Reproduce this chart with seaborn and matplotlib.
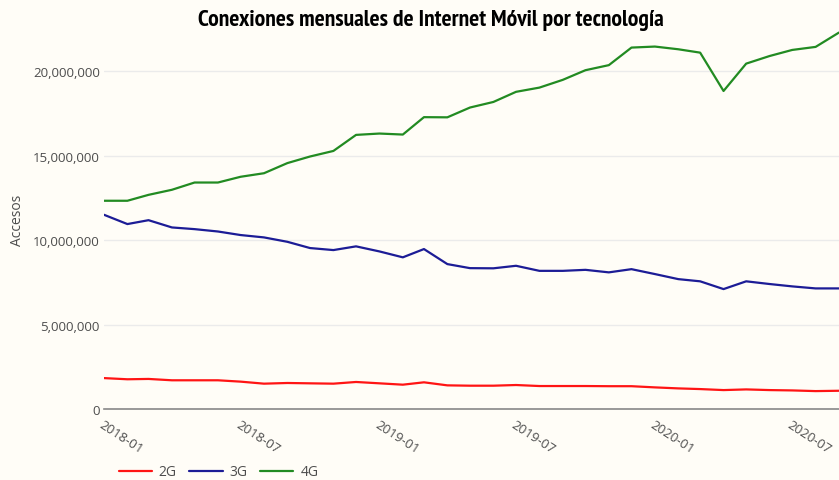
import matplotlib.pyplot as plt
import matplotlib.dates as mdates
import matplotlib.ticker as mticker
from matplotlib import font_manager
import pandas as pd
import seaborn as sns

# Monthly mobile internet connections by technology (millions)
meses = pd.date_range('2018-01-01', '2020-09-01', freq='MS')

accesos_2g = [1.83, 1.76, 1.78, 1.70, 1.70, 1.70, 1.62, 1.50, 1.54, 1.52, 1.50, 1.60,
              1.52, 1.44, 1.58, 1.40, 1.38, 1.38, 1.42, 1.36, 1.36, 1.36, 1.35, 1.35,
              1.28, 1.22, 1.18, 1.12, 1.16, 1.12, 1.10, 1.06, 1.08]
accesos_3g = [11.50, 10.95, 11.18, 10.75, 10.65, 10.51, 10.30, 10.16, 9.90, 9.53, 9.41, 9.63,
              9.33, 8.98, 9.47, 8.58, 8.34, 8.33, 8.48, 8.18, 8.18, 8.24, 8.09, 8.28,
              7.99, 7.69, 7.56, 7.10, 7.56, 7.40, 7.26, 7.14, 7.14]
accesos_4g = [12.33, 12.33, 12.68, 12.98, 13.41, 13.41, 13.75, 13.96, 14.56, 14.95, 15.28, 16.23,
              16.31, 16.25, 17.28, 17.27, 17.85, 18.18, 18.78, 19.03, 19.49, 20.06, 20.36, 21.40,
              21.46, 21.30, 21.10, 18.83, 20.45, 20.90, 21.26, 21.44, 22.29]

tecnologias = ['2G', '3G', '4G']
colores = ['#ff1414', '#1c1c96', '#228b22']

# Long format for seaborn
df = pd.concat([
    pd.DataFrame({'mes': meses, 'accesos': [v * 1e6 for v in vals], 'tecnologia': t})
    for t, vals in zip(tecnologias, [accesos_2g, accesos_3g, accesos_4g])
])

sns.set_style('white')
plt.rcParams['font.family'] = ['Open Sans', 'DejaVu Sans']

# title: a narrow bold face if one is installed, else plain bold sans
def _w(f):
    return f.weight if isinstance(f.weight, int) else (700 if 'bold' in str(f.weight).lower() else 400)

cands = [f for f in font_manager.fontManager.ttflist
         if ('Narrow' in f.name or 'Condensed' in f.name) and _w(f) >= 600 and f.style == 'normal']
cands.sort(key=lambda f: (0 if 'Narrow' in f.name else 1, abs(_w(f) - 700)))
if cands:
    title_font = font_manager.FontProperties(fname=cands[0].fname, size=17)
else:
    title_font = font_manager.FontProperties(family='Liberation Sans', weight='bold', size=13.5)

bg = '#fffdf7'
fig = plt.figure(figsize=(8.39, 4.81), dpi=100, facecolor=bg)
ax = fig.add_axes([104 / 839, 71 / 481, 1 - 104 / 839, 380 / 481])
ax.set_facecolor(bg)

sns.lineplot(data=df, x='mes', y='accesos', hue='tecnologia',
             palette=dict(zip(tecnologias, colores)), linewidth=1.6, ax=ax, legend=False)

ax.set_xlim(meses[0], meses[-1])
ax.set_ylim(0, 22.5e6)

ax.yaxis.set_major_locator(mticker.MultipleLocator(5e6))
ax.yaxis.set_major_formatter(mticker.FuncFormatter(lambda v, p: f'{v:,.0f}'))
ax.xaxis.set_major_locator(mdates.MonthLocator(bymonth=[1, 7]))
ax.xaxis.set_major_formatter(mdates.DateFormatter('%Y-%m'))

ax.grid(axis='y', color='#ebebeb', linewidth=1)
ax.set_axisbelow(True)
for s in ['top', 'right', 'left']:
    ax.spines[s].set_visible(False)
ax.spines['bottom'].set_color('#888888')
ax.spines['bottom'].set_linewidth(1.2)

ax.tick_params(axis='both', length=0, labelsize=9.5, labelcolor='#4d4d4d')
ax.tick_params(axis='y', pad=3)
ax.tick_params(axis='x', pad=6)
for lbl in ax.get_xticklabels():
    lbl.set_rotation(-33)
    lbl.set_ha('left')
    lbl.set_va('top')
    lbl.set_rotation_mode('anchor')

ax.set_xlabel('')
ax.set_ylabel('Accesos', fontsize=10, color='#4d4d4d', labelpad=6)

fig.text(0.513, 0.958, 'Conexiones mensuales de Internet Móvil por tecnología',
         ha='center', va='center', fontproperties=title_font, color='black')

handles = [plt.Line2D([], [], color=c, linewidth=1.6) for c in colores]
fig.legend(handles, tecnologias, loc='center left', bbox_to_anchor=(106 / 839, 1 - 473 / 481),
           ncol=3, frameon=False, fontsize=10, labelcolor='#4d4d4d',
           handlelength=2.4, handletextpad=0.5, columnspacing=0.9)

fig.savefig('out.png', dpi=100, facecolor=bg)
